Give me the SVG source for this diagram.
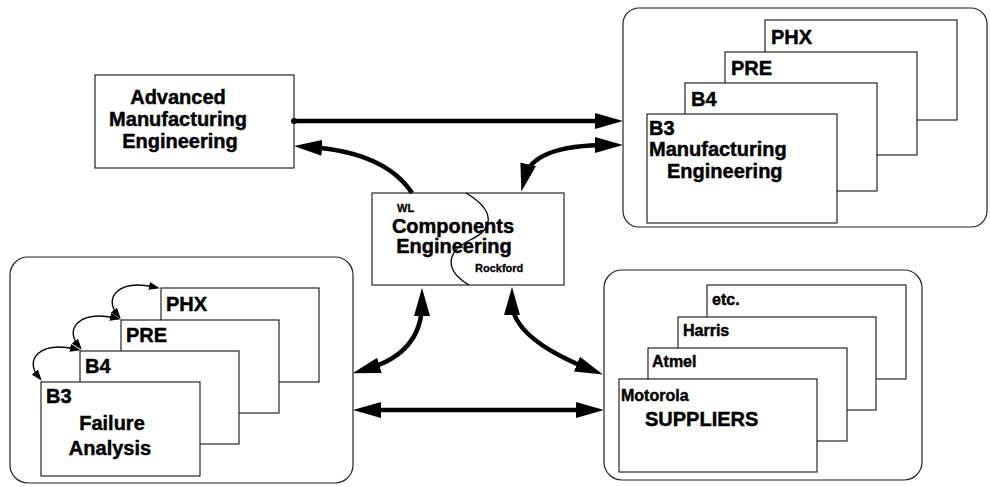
<svg xmlns="http://www.w3.org/2000/svg" width="990" height="487" viewBox="0 0 990 487">
  <defs>
    <style>
      .group { fill: #fff; stroke: #222; stroke-width: 1.2; }
      .card { fill: #fff; stroke: #111; stroke-width: 1.1; }
      .t { font-family: "Liberation Sans", Arial, Helvetica, sans-serif; font-weight: bold; fill: #000; stroke: #000; stroke-width: 0.45; }
      .big { font-size: 20px; }
      .mid { font-size: 16px; }
      .tiny { font-size: 11px; stroke-width: 0.3; }
      .c { text-anchor: middle; }
      .flow { fill: none; stroke: #000; stroke-width: 4.5; }
      .loop { fill: none; stroke: #000; stroke-width: 1.4; }
    </style>
    <marker id="head" markerUnits="userSpaceOnUse" markerWidth="28" markerHeight="16" refX="13" refY="8" orient="auto-start-reverse">
      <path d="M0,0 L28,8 L0,16 Z" fill="#000"/>
    </marker>
    <marker id="headSmall" markerUnits="userSpaceOnUse" markerWidth="11" markerHeight="8" refX="5" refY="4" orient="auto-start-reverse">
      <path d="M0,0 L11,4 L0,8 Z" fill="#000"/>
    </marker>
  </defs>

  <rect width="990" height="487" fill="#fff"/>

  <!-- Advanced Manufacturing Engineering -->
  <g id="ame">
    <rect class="card" x="95" y="75" width="199" height="93"/>
    <text class="t big c" x="178" y="104">Advanced</text>
    <text class="t big c" x="178" y="126">Manufacturing</text>
    <text class="t big c" x="180" y="148">Engineering</text>
  </g>

  <!-- Manufacturing Engineering sites -->
  <g id="mfg-eng">
    <rect class="group" x="623" y="8" width="364" height="219" rx="16"/>
    <rect class="card" x="765" y="20" width="192" height="100"/>
    <text class="t big" x="771" y="44">PHX</text>
    <rect class="card" x="725" y="52" width="192" height="103"/>
    <text class="t big" x="731" y="75">PRE</text>
    <rect class="card" x="685" y="83" width="192" height="108"/>
    <text class="t big" x="691" y="106">B4</text>
    <rect class="card" x="647" y="114" width="190" height="109"/>
    <text class="t big" x="649" y="135">B3</text>
    <text class="t big" x="649" y="156">Manufacturing</text>
    <text class="t big" x="667" y="178">Engineering</text>
  </g>

  <!-- Components Engineering -->
  <g id="comp-eng">
    <rect class="card" x="372" y="193" width="192" height="92"/>
    <path d="M466 193 C 498 212, 492 230, 470 240 C 446 252, 444 270, 469 285" fill="none" stroke="#000" stroke-width="1.3"/>
    <text class="t tiny" x="397" y="212">WL</text>
    <text class="t big c" x="453" y="233">Components</text>
    <text class="t big c" x="454" y="253">Engineering</text>
    <text class="t tiny" x="475" y="272">Rockford</text>
  </g>

  <!-- Failure Analysis sites -->
  <g id="failure-analysis">
    <rect class="group" x="10" y="257" width="343" height="226" rx="18"/>
    <rect class="card" x="161" y="288" width="158" height="94"/>
    <text class="t big" x="166" y="311">PHX</text>
    <rect class="card" x="121" y="320" width="158" height="93"/>
    <text class="t big" x="126" y="342">PRE</text>
    <rect class="card" x="80" y="351" width="159" height="93"/>
    <text class="t big" x="85" y="373">B4</text>
    <rect class="card" x="41" y="382" width="159" height="94"/>
    <text class="t big" x="46" y="403">B3</text>
    <text class="t big c" x="112" y="430">Failure</text>
    <text class="t big c" x="110" y="455">Analysis</text>
    <!-- links between neighbouring sites -->
    <path class="loop" d="M117 314 C 104 298, 118 279, 154 287" marker-start="url(#headSmall)" marker-end="url(#headSmall)"/>
    <path class="loop" d="M78 345 C 65 329, 79 310, 115 318" marker-start="url(#headSmall)" marker-end="url(#headSmall)"/>
    <path class="loop" d="M38 376 C 25 360, 39 341, 75 349" marker-start="url(#headSmall)" marker-end="url(#headSmall)"/>
  </g>

  <!-- Suppliers -->
  <g id="suppliers">
    <rect class="group" x="604" y="270" width="318" height="210" rx="18"/>
    <rect class="card" x="707" y="285" width="199" height="94"/>
    <text class="t mid" x="712" y="305">etc.</text>
    <rect class="card" x="678" y="317" width="198" height="93"/>
    <text class="t mid" x="683" y="336">Harris</text>
    <rect class="card" x="648" y="348" width="199" height="93"/>
    <text class="t mid" x="652" y="367">Atmel</text>
    <rect class="card" x="619" y="379" width="198" height="93"/>
    <text class="t mid" x="621" y="401">Motorola</text>
    <text class="t big" x="645" y="426">SUPPLIERS</text>
  </g>

  <!-- Connectors -->
  <g id="connectors">
    <circle cx="294" cy="121" r="3" fill="#000"/>
    <path class="flow" d="M294 121 L608 121" marker-end="url(#head)"/>
    <path class="flow" d="M412 193 Q 385 152 309 147" marker-end="url(#head)"/>
    <path class="flow" d="M525 177 Q 533 145 608 145" marker-start="url(#head)" marker-end="url(#head)"/>
    <path class="flow" d="M422 303 Q 422 353 367 369" marker-start="url(#head)" marker-end="url(#head)"/>
    <path class="flow" d="M512 302 Q 512 338 589 369" marker-start="url(#head)" marker-end="url(#head)"/>
    <path class="flow" d="M368 410 L589 410" marker-start="url(#head)" marker-end="url(#head)"/>
  </g>
</svg>
